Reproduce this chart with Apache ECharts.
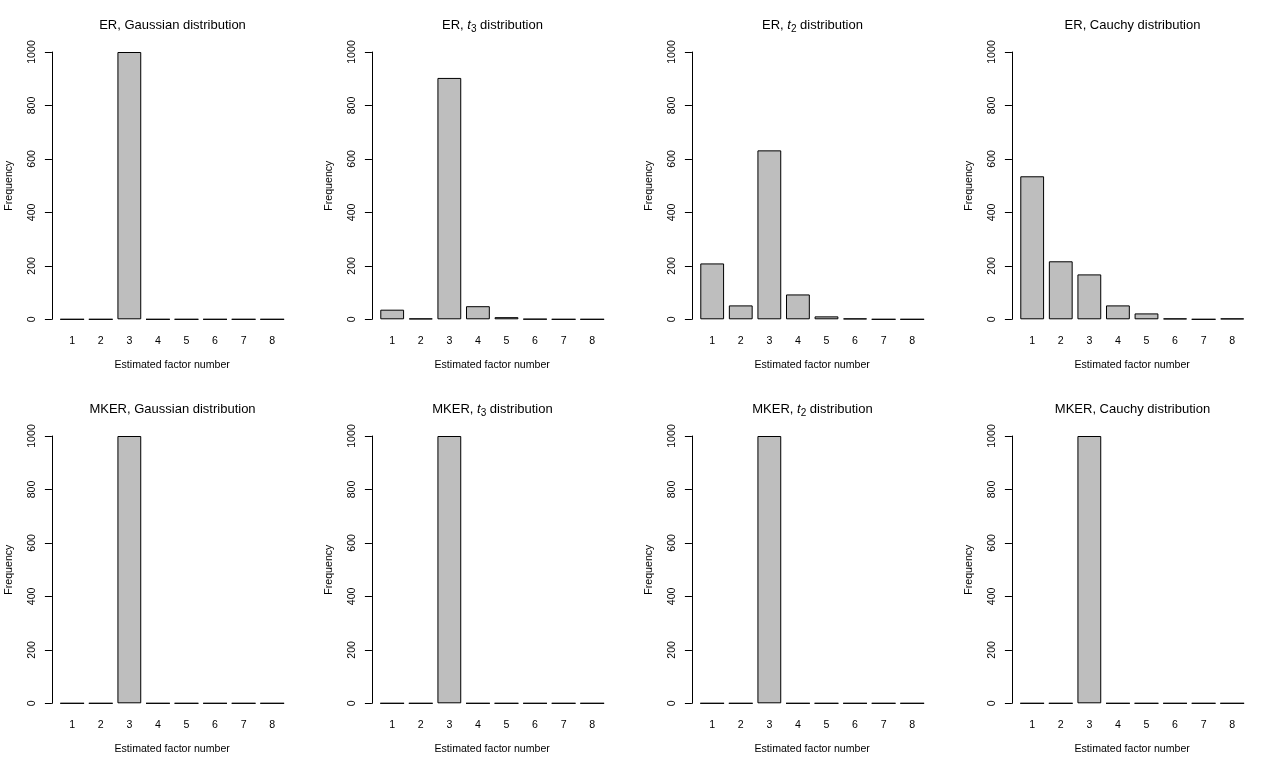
<!DOCTYPE html>
<html>
<head>
<meta charset="utf-8">
<style>
	html, body { margin: 0; padding: 0; background: #fff; }
	#chart { width: 1280px; height: 768px; }
</style>
<script src="https://cdn.jsdelivr.net/npm/echarts@6/dist/echarts.min.js"></script>
</head>
<body>
<div id="chart"></div>
<script>
	'use strict'
	/*----data----*/
	var factorNumbers = ['1', '2', '3', '4', '5', '6', '7', '8'];
	var yTicks = [0, 200, 400, 600, 800, 1000];
	var erGaussian = [0, 0, 1000, 0, 0, 0, 0, 0];
	var erT3 = [36, 3, 903, 49, 8, 1, 0, 0];
	var erT2 = [209, 52, 632, 93, 11, 3, 0, 0];
	var erCauchy = [535, 217, 168, 52, 22, 3, 0, 3];
	var mkerGaussian = [0, 0, 1000, 0, 0, 0, 0, 0];
	var mkerT3 = [0, 0, 1000, 0, 0, 0, 0, 0];
	var mkerT2 = [0, 0, 1000, 0, 0, 0, 0, 0];
	var mkerCauchy = [0, 0, 1000, 0, 0, 0, 0, 0];

	var panels = [
		{ title: '{n|ER, Gaussian distribution}', data: erGaussian },
		{ title: '{n|ER, }{i|t}{s|3}{n| distribution}', data: erT3 },
		{ title: '{n|ER, }{i|t}{s|2}{n| distribution}', data: erT2 },
		{ title: '{n|ER, Cauchy distribution}', data: erCauchy },
		{ title: '{n|MKER, Gaussian distribution}', data: mkerGaussian },
		{ title: '{n|MKER, }{i|t}{s|3}{n| distribution}', data: mkerT3 },
		{ title: '{n|MKER, }{i|t}{s|2}{n| distribution}', data: mkerT2 },
		{ title: '{n|MKER, Cauchy distribution}', data: mkerCauchy }
	];

	var font = 'Liberation Sans, Arial, sans-serif';
	var titles = [], grids = [], xAxes = [], yAxes = [], series = [];

	panels.forEach(function (p, k) {
		var col = k % 4;
		var row = Math.floor(k / 4);
		var ox = col * 320;
		var oy = row * 384;
		titles.push({
			text: p.title,
			left: ox + 172.5,
			top: oy + 16,
			textAlign: 'center',
			padding: 0,
			textStyle: {
				fontFamily: font,
				fontWeight: 'normal',
				fontSize: 13,
				color: '#000',
				rich: {
					n: { fontFamily: font, fontSize: 13, lineHeight: 18, color: '#000' },
					i: { fontFamily: font, fontSize: 13, lineHeight: 18, fontStyle: 'italic', color: '#000' },
					s: { fontFamily: font, fontSize: 10, lineHeight: 18, verticalAlign: 'bottom', color: '#000' }
				}
			}
		});
		grids.push({
			left: ox + 57.9,
			top: oy + 52,
			width: 228.6,
			height: 267.3
		});
		xAxes.push({
			type: 'category',
			gridIndex: k,
			data: factorNumbers,
			name: 'Estimated factor number',
			nameLocation: 'middle',
			nameGap: 40,
			nameTextStyle: { fontFamily: font, fontSize: 10.6, color: '#000' },
			axisLine: { show: false },
			axisTick: { show: false },
			axisLabel: { fontFamily: font, fontSize: 10.6, color: '#000', margin: 16 }
		});
		yAxes.push({
			type: 'value',
			gridIndex: k,
			min: yTicks[0],
			max: yTicks[yTicks.length - 1],
			interval: 200,
			offset: 6,
			name: 'Frequency',
			nameLocation: 'middle',
			nameRotate: 90,
			nameGap: 37,
			nameTextStyle: { fontFamily: font, fontSize: 10.6, color: '#000' },
			splitLine: { show: false },
			axisLine: { show: true, lineStyle: { color: '#000', width: 1 } },
			axisTick: { show: true, inside: false, length: 7, lineStyle: { color: '#000', width: 1 } },
			axisLabel: {
				fontFamily: font, fontSize: 10.6, color: '#000', rotate: 90, margin: 14,
				formatter: function (v) { return String(v); }
			}
		});
		series.push({
			type: 'bar',
			xAxisIndex: k,
			yAxisIndex: k,
			data: p.data,
			barCategoryGap: '16.67%',
			itemStyle: { color: '#bebebe', borderColor: '#000', borderWidth: 1 },
			emphasis: { disabled: true },
			silent: true
		});
	});

	var chart = echarts.init(document.getElementById('chart'), null, { renderer: 'canvas' });
	chart.setOption({
		animation: false,
		backgroundColor: '#fff',
		title: titles,
		grid: grids,
		xAxis: xAxes,
		yAxis: yAxes,
		series: series
	});
</script>
</body>
</html>
